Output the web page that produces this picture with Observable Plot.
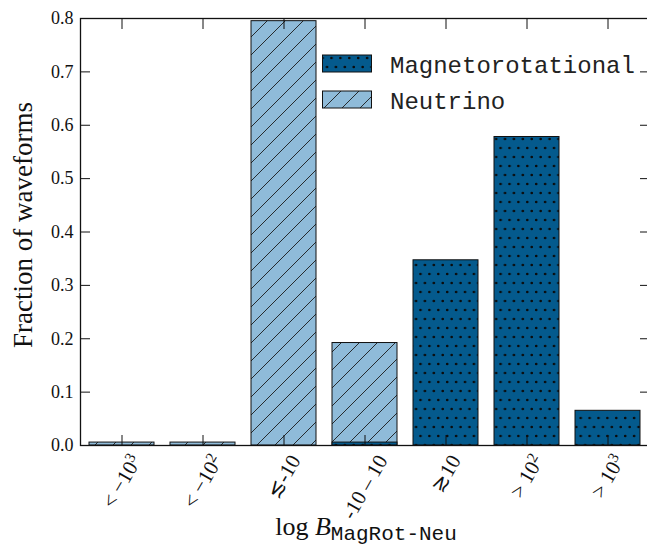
<!DOCTYPE html>
<html><head><meta charset="utf-8">
<script src="https://cdn.jsdelivr.net/npm/d3@7"></script>
<script src="https://cdn.jsdelivr.net/npm/@observablehq/plot@0.6"></script>
<style>
body{margin:0;background:#fff;overflow:hidden}
#chart svg{display:block}
</style>
</head><body>
<svg width="0" height="0" style="position:absolute">
 <defs>
  <pattern id="dots" patternUnits="userSpaceOnUse" width="8.9" height="18">
    <rect width="8.9" height="18" fill="#045a8d"/>
    <circle cx="2.2" cy="4" r="1.35" fill="#0a0a0a"/>
    <circle cx="6.65" cy="13" r="1.35" fill="#0a0a0a"/>
  </pattern>
  <pattern id="hatch" patternUnits="userSpaceOnUse" width="18" height="18">
    <rect width="18" height="18" fill="#8fbbd9"/>
    <path d="M-1,19 L19,-1 M-5,5 L5,-5 M13,23 L23,13" stroke="#1a1a1a" stroke-width="0.9"/>
  </pattern>
 </defs>
</svg>
<div id="chart"></div>
<script>
const categories = ["< \u221210\u00b3", "< \u221210\u00b2", "\u2272-10", "-10 \u2013 10", "\u227310", "> 10\u00b2", "> 10\u00b3"];
const magnetorotational = [0, 0, 0, 0.0055, 0.347, 0.578, 0.065];
const neutrino = [0.0055, 0.0055, 0.795, 0.192, 0, 0, 0];
const yTicks = [0, 0.1, 0.2, 0.3, 0.4, 0.5, 0.6, 0.7, 0.8];
const legendLabels = ["Magnetorotational", "Neutrino"];
const yLabel = "Fraction of waveforms";

const neuData = categories.map((c, i) => ({cat: c, value: neutrino[i]})).filter(d => d.value > 0);
const magData = categories.map((c, i) => ({cat: c, value: magnetorotational[i]})).filter(d => d.value > 0);

const plot = Plot.plot({
  width: 647, height: 546,
  marginLeft: 80, marginTop: 18, marginBottom: 101, marginRight: -2,
  style: {fontFamily: "'Liberation Serif', serif", fontSize: "18px", color: "#111", background: "#fff", overflow: "visible"},
  x: {domain: categories, paddingInner: 0.2, paddingOuter: 0.1},
  y: {domain: [0, 0.8]},
  marks: [
    Plot.barY(neuData, {x: "cat", y: "value", fill: "url(#hatch)", stroke: "#111", strokeWidth: 1}),
    Plot.barY(magData, {x: "cat", y: "value", fill: "url(#dots)", stroke: "#111", strokeWidth: 1}),
    Plot.axisX({anchor: "bottom", tickSize: 10, dy: -10, tickFormat: () => "", label: null, stroke: "#111"}),
    Plot.axisX({anchor: "top", tickSize: 10, dy: 10, tickFormat: () => "", label: null, stroke: "#111"}),
    Plot.axisY({anchor: "left", ticks: yTicks, tickSize: 10, dx: 10, tickFormat: () => "", label: null, stroke: "#111"}),
    Plot.axisY({anchor: "right", ticks: yTicks, tickSize: 10, dx: -10, tickFormat: () => "", label: null, stroke: "#111"}),
    Plot.axisY({anchor: "left", ticks: yTicks, tickSize: 0, tickPadding: 7, tickFormat: d3.format(".1f"), label: null, fontSize: 18, fill: "#111"}),
    Plot.text(categories, {x: d => d, frameAnchor: "bottom", rotate: -60, textAnchor: "middle", lineAnchor: "middle", fontSize: 21, fill: "#111", className: "xtick"}),
    Plot.text([yLabel], {frameAnchor: "left", dx: -57, dy: -7, rotate: -90, textAnchor: "middle", lineAnchor: "middle", fontSize: 27, fill: "#111"}),
    Plot.frame({stroke: "#111", strokeWidth: 1.3})
  ]
});
document.getElementById("chart").appendChild(plot);

// rotated tick labels: superscripts as tspans, bbox centered on tick, top aligned
const sup = {"\u00b2": "2", "\u00b3": "3"};
const fs = 21;
const s60 = Math.sin(Math.PI / 3), c60 = Math.cos(Math.PI / 3);
d3.select(plot).selectAll("g.xtick text").each(function() {
  const label = this.textContent;
  const t = this.getAttribute("transform") || "";
  const m = t.match(/translate\(([-\d.]+),\s*([-\d.]+)\)/);
  const cx = m ? +m[1] : 0;
  const sel = d3.select(this);
  sel.text(null).style("font-size", fs + "px").attr("font-family", "'Liberation Serif', serif");
  const last = label.slice(-1);
  if (sup[last]) {
    sel.append("tspan").text(label.slice(0, -1));
    sel.append("tspan").style("font-size", "15px").attr("dy", "-0.45em").text(sup[last]);
  } else {
    sel.append("tspan").text(label);
  }
  const L = this.getComputedTextLength();
  const h = L * s60 + fs * 0.8 * c60;
  this.setAttribute("transform", `translate(${cx},${452 + h / 2}) rotate(-60)`);
});

const svg = d3.select(plot);
// legend
const lg = svg.append("g").attr("text-anchor", "start");
const fills = ["url(#dots)", "url(#hatch)"];
const rowsY = [55, 91];
legendLabels.forEach((lab, i) => {
  lg.append("rect").attr("x", 322.5).attr("y", rowsY[i]).attr("width", 49).attr("height", 17)
    .attr("fill", fills[i]).attr("stroke", "#111").attr("stroke-width", 1);
  lg.append("text").attr("x", 390).attr("y", rowsY[i] + 17.5).attr("text-anchor", "start")
    .attr("font-family", "'Liberation Mono', monospace").attr("font-size", 24).attr("fill", "#222")
    .text(lab);
});
// x label
const xl = svg.append("text").attr("x", 366).attr("y", 535).attr("text-anchor", "middle")
  .attr("font-size", 26).attr("fill", "#111").attr("font-family", "'Liberation Serif', serif");
xl.append("tspan").text("log ");
xl.append("tspan").attr("font-style", "italic").text("B");
xl.append("tspan").attr("font-family", "'Liberation Mono', monospace").attr("font-size", 21).attr("dy", 5).text("MagRot-Neu");
</script>
</body></html>
